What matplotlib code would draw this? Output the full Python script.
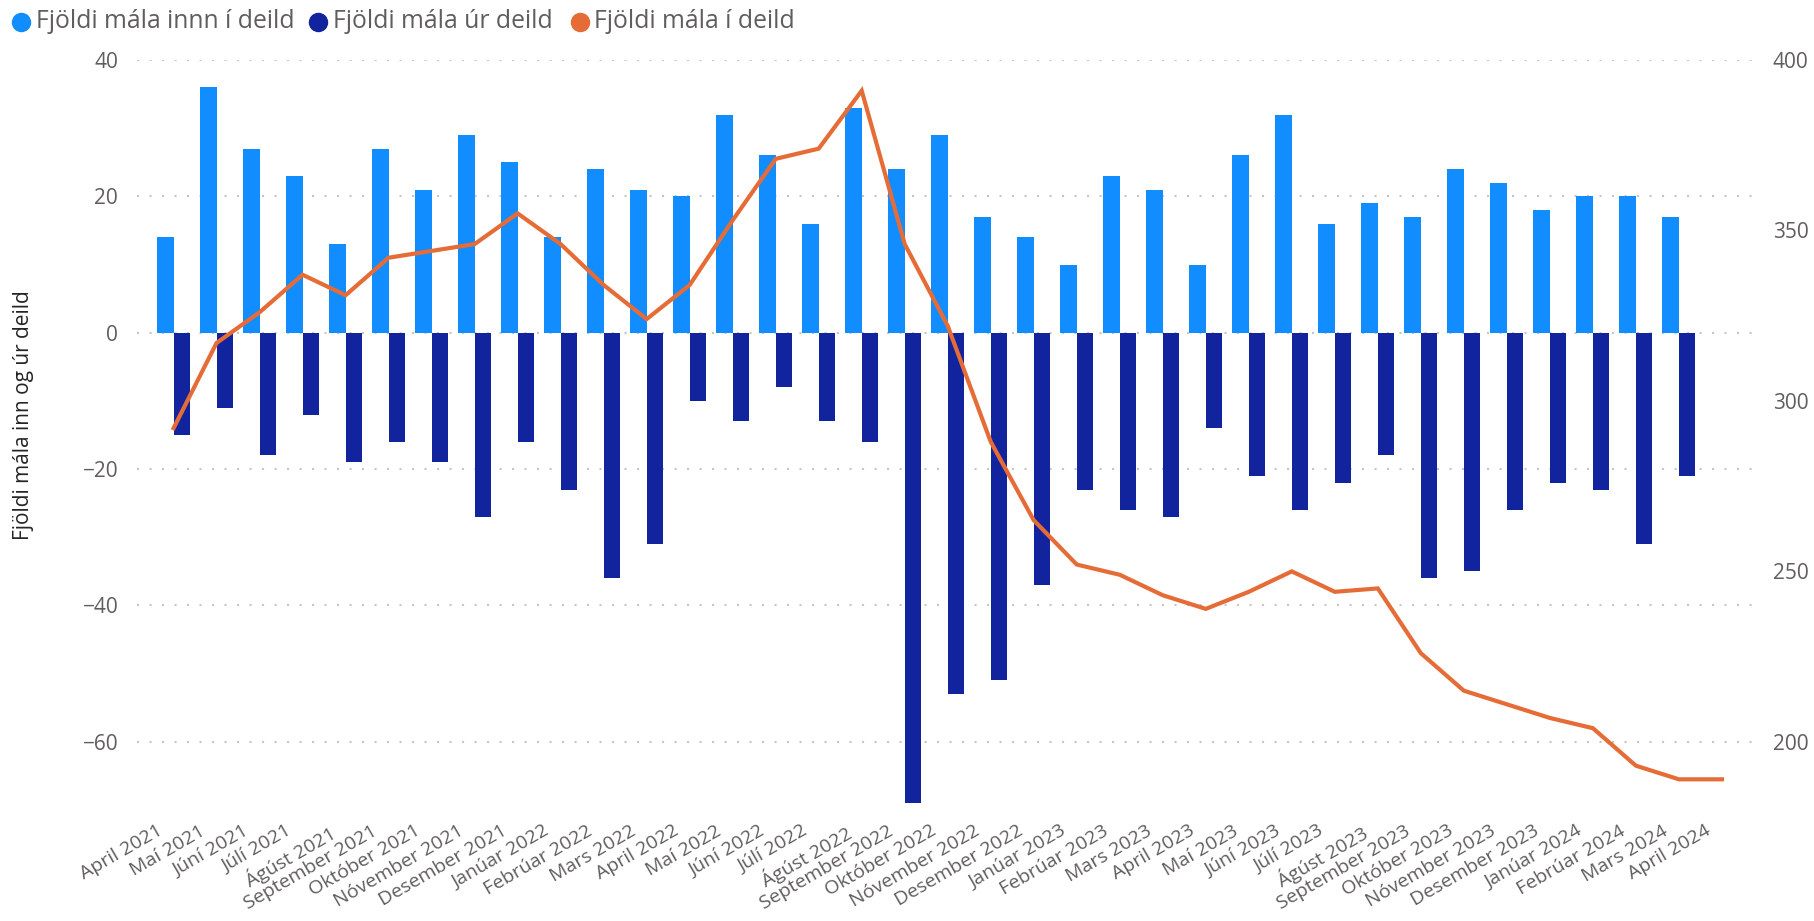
import matplotlib

matplotlib.use("Agg")
import matplotlib.pyplot as plt
import numpy as np
from matplotlib.lines import Line2D
from matplotlib.transforms import ScaledTranslation

plt.rcParams["font.family"] = ["Open Sans", "DejaVu Sans"]

months = [
    "April 2021", "Maí 2021", "Júní 2021", "Júlí 2021", "Ágúst 2021",
    "September 2021", "Október 2021", "Nóvember 2021", "Desember 2021",
    "Janúar 2022", "Febrúar 2022", "Mars 2022", "April 2022", "Maí 2022",
    "Júní 2022", "Júlí 2022", "Ágúst 2022", "September 2022", "Október 2022",
    "Nóvember 2022", "Desember 2022", "Janúar 2023", "Febrúar 2023",
    "Mars 2023", "April 2023", "Maí 2023", "Júní 2023", "Júlí 2023",
    "Ágúst 2023", "September 2023", "Október 2023", "Nóvember 2023",
    "Desember 2023", "Janúar 2024", "Febrúar 2024", "Mars 2024", "April 2024",
]

# cases in / out per month (April 2024 has no bars)
inn = [14, 36, 27, 23, 13, 27, 21, 29, 25, 14, 24, 21, 20, 32, 26, 16, 33, 24,
       29, 17, 14, 10, 23, 21, 10, 26, 32, 16, 19, 17, 24, 22, 18, 20, 20, 17]
ur = [-15, -11, -18, -12, -19, -16, -19, -27, -16, -23, -36, -31, -10, -13, -8,
      -13, -16, -69, -53, -51, -37, -23, -26, -27, -14, -21, -26, -22, -18,
      -36, -35, -26, -22, -23, -31, -21]

# open cases in department (right axis)
i_deild = [292, 317, 326, 337, 331, 342, 344, 346, 355, 346, 334, 324, 334,
           353, 371, 374, 391, 346, 322, 288, 265, 252, 249, 243, 239, 244,
           250, 244, 245, 226, 215, 211, 207, 204, 193, 189, 189]

series_names = ["Fjöldi mála innn í deild", "Fjöldi mála úr deild", "Fjöldi mála í deild"]

c_inn = "#118DFF"
c_ur = "#12239E"
c_line = "#E66C37"
c_text = "#605E5C"
c_title = "#252423"
c_grid = "#C8C6C4"

W, H = 1815, 921
fig = plt.figure(figsize=(W / 100, H / 100), dpi=100)
ax = fig.add_axes([137 / W, 1 - 810 / H, (1752 - 137) / W, 750 / H])

x_bar = np.arange(len(inn))
width = 0.385
ax.bar(x_bar - width / 2, inn, width, color=c_inn, zorder=2)
ax.bar(x_bar + width / 2, ur, width, color=c_ur, zorder=2)

ax.set_ylim(-70, 40)
ax.set_xlim(-0.85, 36.7)
ax.set_yticks([40, 20, 0, -20, -40, -60])
ax.grid(axis="y", color=c_grid, linestyle=(0, (1, 5)), linewidth=1.5, zorder=0)
ax.set_axisbelow(True)
for spine in ax.spines.values():
    spine.set_visible(False)
ax.tick_params(axis="y", length=0, labelsize=15, labelcolor=c_text, pad=13.5)

ax.set_xticks(np.arange(len(months)))
ax.set_xticklabels(months, rotation=30, ha="right", va="top",
                   rotation_mode="anchor", fontsize=14, color=c_text)
ax.tick_params(axis="x", length=0, pad=8.5)
shift = ScaledTranslation(-0.17, 0, fig.dpi_scale_trans)
for label in ax.get_xticklabels():
    label.set_transform(label.get_transform() + shift)

fig.text(24 / W, 1 - 415 / H, "Fjöldi mála inn og úr deild", rotation=90,
         ha="center", va="center", fontsize=15, color=c_title)

ax2 = ax.twinx()
ax2.plot(np.arange(len(i_deild)), i_deild, color=c_line, linewidth=3,
         solid_joinstyle="miter", zorder=3)
ax2.set_ylim(180, 400)
ax2.set_yticks([400, 350, 300, 250, 200])
for spine in ax2.spines.values():
    spine.set_visible(False)
ax2.tick_params(axis="y", length=0, labelsize=15, labelcolor=c_text, pad=15)

# legend row across the top
legend_y = 1 - 22 / H
marker_x = [21, 318, 580]
text_x = [36, 333, 594]
for color, name, mx, tx in zip([c_inn, c_ur, c_line], series_names, marker_x, text_x):
    fig.add_artist(Line2D([mx / W], [legend_y], marker="o", markersize=13,
                          color=color, linestyle="", transform=fig.transFigure))
    fig.text(tx / W, legend_y, name, ha="left", va="center", fontsize=17.8,
             color=c_text)

fig.savefig("out.png", dpi=100)
